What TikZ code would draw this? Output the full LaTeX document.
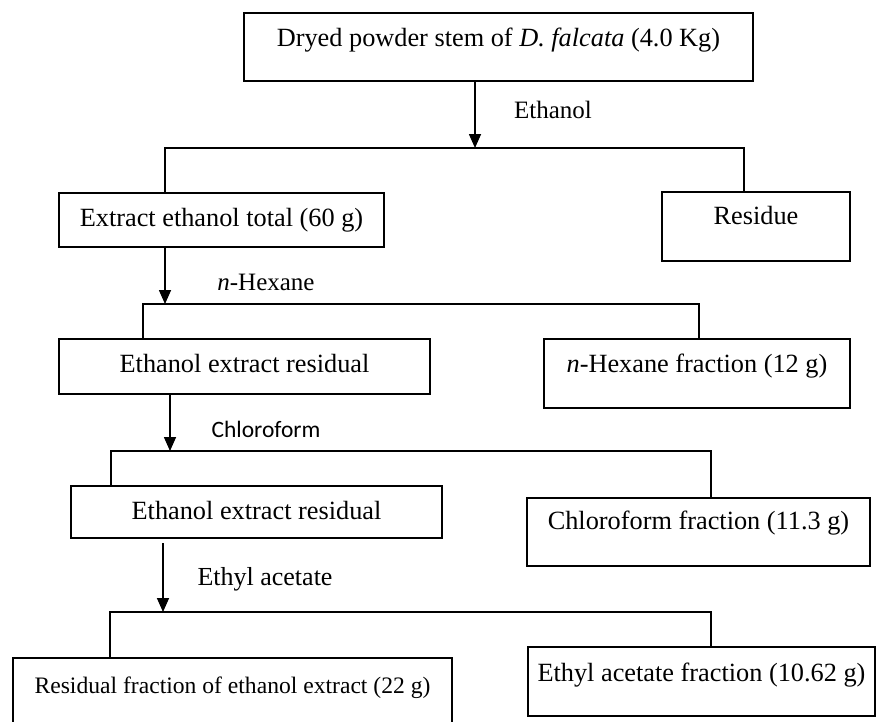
\documentclass[tikz,border=0pt]{standalone}
\usepackage{fontspec}
\setmainfont{Liberation Serif}
\newfontfamily\calibri{Carlito}
\usetikzlibrary{arrows.meta}

\tikzset{
  box/.style={draw, line width=2pt, inner sep=0pt, anchor=north west, font=\fontsize{26.3}{30}\selectfont},
  lbl/.style={anchor=base, inner sep=0pt, font=\fontsize{25}{30}\selectfont},
  link/.style={line width=1.6pt},
  arr/.style={link, -{Triangle[length=14pt,width=12pt]}}
}

\begin{document}
\begin{tikzpicture}[x=1pt,y=-1pt]
  \clip (0,0) rectangle (876,721);
  % boxes
  \node[box, minimum width=509, text height=33, text depth=35] (dry) at (243,12) {Dryed powder stem of \textit{D. falcata} (4.0 Kg)};
  \node[box, minimum width=325, text height=33, text depth=21] (tot) at (58,192) {Extract ethanol total (60 g)};
  \node[box, minimum width=188, text height=32, text depth=37] (res) at (661,191) {Residue};
  \node[box, minimum width=371, text height=33, text depth=22] (er1) at (58,338) {Ethanol extract residual};
  \node[box, minimum width=306, text height=33, text depth=36] (hex) at (543,338) {\textit{n}-Hexane fraction (12 g)};
  \node[box, minimum width=371, text height=33, text depth=19] (er2) at (70,485) {Ethanol extract residual};
  \node[box, minimum width=343, text height=31, text depth=37] (chl) at (526,497) {Chloroform fraction (11.3 g)};
  \node[box, minimum width=439, text height=35, text depth=55, font=\fontsize{23.6}{28}\selectfont] (rfr) at (12,657) {Residual fraction of ethanol extract (22 g)};
  \node[box, minimum width=347, text height=34, text depth=35] (eaf) at (527,646) {Ethyl acetate fraction (10.62 g)};

  % solvents
  \node[lbl] (ethanol) at (553,118) {Ethanol};
  \node[lbl] (hexane) at (266,290) {\textit{n}-Hexane};
  \node[lbl, font=\calibri\fontsize{23.5}{28}\selectfont] (chloro) at (266,437) {Chloroform};
  \node[lbl, font=\fontsize{26}{30}\selectfont] (ethyl) at (265,585) {Ethyl acetate};

  % splits
  \coordinate (j1) at (475,148); \coordinate (j1l) at (165,148); \coordinate (j1r) at (744,148);
  \draw[arr] (dry.south -| j1) -- (j1);
  \draw[link] (tot.north -| j1l) |- (j1r) -- (res.north -| j1r);

  \coordinate (j2) at (165,304); \coordinate (j2l) at (143,304); \coordinate (j2r) at (699,304);
  \draw[arr] (tot.south -| j2) -- (j2);
  \draw[link] (er1.north -| j2l) |- (j2r) -- (hex.north -| j2r);

  \coordinate (j3) at (170,451); \coordinate (j3l) at (111,451); \coordinate (j3r) at (711,451);
  \draw[arr] (er1.south -| j3) -- (j3);
  \draw[link] (er2.north -| j3l) |- (j3r) -- (chl.north -| j3r);

  \coordinate (e4) at (163,543);
  \coordinate (j4) at (163,612); \coordinate (j4l) at (110,612); \coordinate (j4r) at (711,612);
  \draw[arr] (e4) -- (j4);
  \draw[link] (rfr.north -| j4l) |- (j4r) -- (eaf.north -| j4r);
\end{tikzpicture}
\end{document}
